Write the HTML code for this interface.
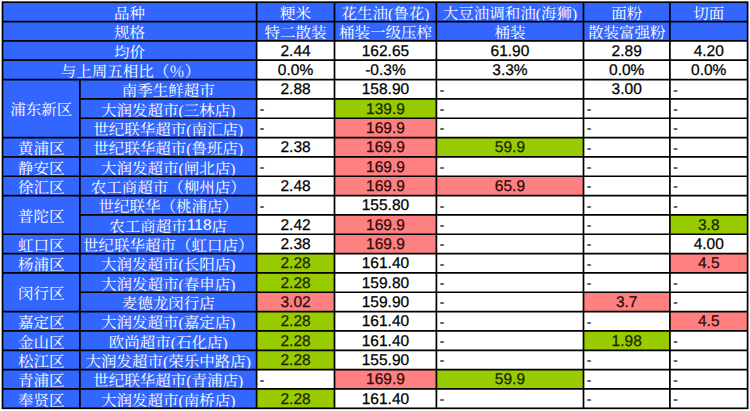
<!DOCTYPE html>
<html><head><meta charset="utf-8"><style>
html,body{margin:0;padding:0;background:#fff;}
body{width:750px;height:411px;position:relative;overflow:hidden;text-rendering:geometricPrecision;}
.c{position:absolute;display:flex;align-items:center;justify-content:center;white-space:nowrap;box-sizing:border-box;}
.h{padding-top:2px;color:#fff;font-family:"Liberation Serif","Noto Serif CJK SC",serif;font-size:15.5px;font-weight:400;}
.n{padding-top:2.2px;color:#000;-webkit-text-stroke:0.25px #000;font-family:"Liberation Sans",Arial,sans-serif;font-size:15.5px;}
.d{padding-top:1.6px;color:#000;font-family:"Liberation Sans",Arial,sans-serif;font-size:15px;justify-content:flex-start;padding-left:3px;}
svg{position:absolute;left:0;top:0;}
.ls{font-family:"Liberation Sans",sans-serif;}
</style></head><body>
<div class="c h" style="left:2.50px;top:2.20px;width:254.10px;height:19.34px;background:#3366FF">品种</div>
<div class="c h" style="left:256.60px;top:2.20px;width:77.90px;height:19.34px;background:#3366FF">粳米</div>
<div class="c h" style="left:334.50px;top:2.20px;width:101.90px;height:19.34px;background:#3366FF">花生油(鲁花)</div>
<div class="c h" style="left:436.40px;top:2.20px;width:147.10px;height:19.34px;background:#3366FF">大豆油调和油(海狮)</div>
<div class="c h" style="left:583.50px;top:2.20px;width:86.40px;height:19.34px;background:#3366FF">面粉</div>
<div class="c h" style="left:669.90px;top:2.20px;width:77.70px;height:19.34px;background:#3366FF">切面</div>
<div class="c h" style="left:2.50px;top:21.54px;width:254.10px;height:19.34px;background:#3366FF">规格</div>
<div class="c h" style="left:256.60px;top:21.54px;width:77.90px;height:19.34px;background:#3366FF">特二散装</div>
<div class="c h" style="left:334.50px;top:21.54px;width:101.90px;height:19.34px;background:#3366FF">桶装一级压榨</div>
<div class="c h" style="left:436.40px;top:21.54px;width:147.10px;height:19.34px;background:#3366FF">桶装</div>
<div class="c h" style="left:583.50px;top:21.54px;width:86.40px;height:19.34px;background:#3366FF">散装富强粉</div>
<div class="c h" style="left:669.90px;top:21.54px;width:77.70px;height:19.34px;background:#3366FF"></div>
<div class="c h" style="left:2.50px;top:40.88px;width:254.10px;height:19.34px;background:#3366FF">均价</div>
<div class="c n" style="left:256.60px;top:40.88px;width:77.90px;height:19.34px;background:#FFFFFF">2.44</div>
<div class="c n" style="left:334.50px;top:40.88px;width:101.90px;height:19.34px;background:#FFFFFF">162.65</div>
<div class="c n" style="left:436.40px;top:40.88px;width:147.10px;height:19.34px;background:#FFFFFF">61.90</div>
<div class="c n" style="left:583.50px;top:40.88px;width:86.40px;height:19.34px;background:#FFFFFF">2.89</div>
<div class="c n" style="left:669.90px;top:40.88px;width:77.70px;height:19.34px;background:#FFFFFF">4.20</div>
<div class="c h" style="left:2.50px;top:60.21px;width:254.10px;height:19.34px;background:#3366FF"><span style="position:relative;left:1px">与上周五相比（％）</span></div>
<div class="c n" style="left:256.60px;top:60.21px;width:77.90px;height:19.34px;background:#FFFFFF">0.0%</div>
<div class="c n" style="left:334.50px;top:60.21px;width:101.90px;height:19.34px;background:#FFFFFF">-0.3%</div>
<div class="c n" style="left:436.40px;top:60.21px;width:147.10px;height:19.34px;background:#FFFFFF">3.3%</div>
<div class="c n" style="left:583.50px;top:60.21px;width:86.40px;height:19.34px;background:#FFFFFF">0.0%</div>
<div class="c n" style="left:669.90px;top:60.21px;width:77.70px;height:19.34px;background:#FFFFFF">0.0%</div>
<div class="c h" style="left:2.50px;top:79.55px;width:77.40px;height:58.01px;background:#3366FF"><span style="position:relative;top:-1px">浦东新区</span></div>
<div class="c h" style="left:2.50px;top:137.57px;width:77.40px;height:19.34px;background:#3366FF">黄浦区</div>
<div class="c h" style="left:2.50px;top:156.90px;width:77.40px;height:19.34px;background:#3366FF">静安区</div>
<div class="c h" style="left:2.50px;top:176.24px;width:77.40px;height:19.34px;background:#3366FF">徐汇区</div>
<div class="c h" style="left:2.50px;top:195.58px;width:77.40px;height:38.68px;background:#3366FF">普陀区</div>
<div class="c h" style="left:2.50px;top:234.26px;width:77.40px;height:19.34px;background:#3366FF">虹口区</div>
<div class="c h" style="left:2.50px;top:253.59px;width:77.40px;height:19.34px;background:#3366FF">杨浦区</div>
<div class="c h" style="left:2.50px;top:272.93px;width:77.40px;height:38.68px;background:#3366FF">闵行区</div>
<div class="c h" style="left:2.50px;top:311.61px;width:77.40px;height:19.34px;background:#3366FF">嘉定区</div>
<div class="c h" style="left:2.50px;top:330.95px;width:77.40px;height:19.34px;background:#3366FF">金山区</div>
<div class="c h" style="left:2.50px;top:350.28px;width:77.40px;height:19.34px;background:#3366FF">松江区</div>
<div class="c h" style="left:2.50px;top:369.62px;width:77.40px;height:19.34px;background:#3366FF">青浦区</div>
<div class="c h" style="left:2.50px;top:388.96px;width:77.40px;height:19.34px;background:#3366FF">奉贤区</div>
<div class="c h" style="left:79.90px;top:79.55px;width:176.70px;height:19.34px;background:#3366FF">南季生鲜超市</div>
<div class="c n" style="left:256.60px;top:79.55px;width:77.90px;height:19.34px;background:#FFFFFF">2.88</div>
<div class="c n" style="left:334.50px;top:79.55px;width:101.90px;height:19.34px;background:#FFFFFF">158.90</div>
<div class="c d" style="left:436.40px;top:79.55px;width:147.10px;height:19.34px;background:#FFFFFF">-</div>
<div class="c n" style="left:583.50px;top:79.55px;width:86.40px;height:19.34px;background:#FFFFFF">3.00</div>
<div class="c d" style="left:669.90px;top:79.55px;width:77.70px;height:19.34px;background:#FFFFFF">-</div>
<div class="c h" style="left:79.90px;top:98.89px;width:176.70px;height:19.34px;background:#3366FF">大润发超市(三林店)</div>
<div class="c d" style="left:256.60px;top:98.89px;width:77.90px;height:19.34px;background:#FFFFFF">-</div>
<div class="c n" style="left:334.50px;top:98.89px;width:101.90px;height:19.34px;background:#99CC00;color:#1c2600;-webkit-text-stroke-color:#1c2600">139.9</div>
<div class="c d" style="left:436.40px;top:98.89px;width:147.10px;height:19.34px;background:#FFFFFF">-</div>
<div class="c d" style="left:583.50px;top:98.89px;width:86.40px;height:19.34px;background:#FFFFFF">-</div>
<div class="c d" style="left:669.90px;top:98.89px;width:77.70px;height:19.34px;background:#FFFFFF">-</div>
<div class="c h" style="left:79.90px;top:118.23px;width:176.70px;height:19.34px;background:#3366FF">世纪联华超市(南汇店)</div>
<div class="c d" style="left:256.60px;top:118.23px;width:77.90px;height:19.34px;background:#FFFFFF">-</div>
<div class="c n" style="left:334.50px;top:118.23px;width:101.90px;height:19.34px;background:#FF8080;color:#2e0a0a;-webkit-text-stroke-color:#2e0a0a">169.9</div>
<div class="c d" style="left:436.40px;top:118.23px;width:147.10px;height:19.34px;background:#FFFFFF">-</div>
<div class="c d" style="left:583.50px;top:118.23px;width:86.40px;height:19.34px;background:#FFFFFF">-</div>
<div class="c d" style="left:669.90px;top:118.23px;width:77.70px;height:19.34px;background:#FFFFFF">-</div>
<div class="c h" style="left:79.90px;top:137.57px;width:176.70px;height:19.34px;background:#3366FF">世纪联华超市(鲁班店)</div>
<div class="c n" style="left:256.60px;top:137.57px;width:77.90px;height:19.34px;background:#FFFFFF">2.38</div>
<div class="c n" style="left:334.50px;top:137.57px;width:101.90px;height:19.34px;background:#FF8080;color:#2e0a0a;-webkit-text-stroke-color:#2e0a0a">169.9</div>
<div class="c n" style="left:436.40px;top:137.57px;width:147.10px;height:19.34px;background:#99CC00;color:#1c2600;-webkit-text-stroke-color:#1c2600">59.9</div>
<div class="c d" style="left:583.50px;top:137.57px;width:86.40px;height:19.34px;background:#FFFFFF">-</div>
<div class="c d" style="left:669.90px;top:137.57px;width:77.70px;height:19.34px;background:#FFFFFF">-</div>
<div class="c h" style="left:79.90px;top:156.90px;width:176.70px;height:19.34px;background:#3366FF">大润发超市(闸北店)</div>
<div class="c d" style="left:256.60px;top:156.90px;width:77.90px;height:19.34px;background:#FFFFFF">-</div>
<div class="c n" style="left:334.50px;top:156.90px;width:101.90px;height:19.34px;background:#FF8080;color:#2e0a0a;-webkit-text-stroke-color:#2e0a0a">169.9</div>
<div class="c d" style="left:436.40px;top:156.90px;width:147.10px;height:19.34px;background:#FFFFFF">-</div>
<div class="c d" style="left:583.50px;top:156.90px;width:86.40px;height:19.34px;background:#FFFFFF">-</div>
<div class="c d" style="left:669.90px;top:156.90px;width:77.70px;height:19.34px;background:#FFFFFF">-</div>
<div class="c h" style="left:79.90px;top:176.24px;width:176.70px;height:19.34px;background:#3366FF">农工商超市（柳州店）</div>
<div class="c n" style="left:256.60px;top:176.24px;width:77.90px;height:19.34px;background:#FFFFFF">2.48</div>
<div class="c n" style="left:334.50px;top:176.24px;width:101.90px;height:19.34px;background:#FF8080;color:#2e0a0a;-webkit-text-stroke-color:#2e0a0a">169.9</div>
<div class="c n" style="left:436.40px;top:176.24px;width:147.10px;height:19.34px;background:#FF8080;color:#2e0a0a;-webkit-text-stroke-color:#2e0a0a">65.9</div>
<div class="c d" style="left:583.50px;top:176.24px;width:86.40px;height:19.34px;background:#FFFFFF">-</div>
<div class="c d" style="left:669.90px;top:176.24px;width:77.70px;height:19.34px;background:#FFFFFF">-</div>
<div class="c h" style="left:79.90px;top:195.58px;width:176.70px;height:19.34px;background:#3366FF">世纪联华（桃浦店）</div>
<div class="c d" style="left:256.60px;top:195.58px;width:77.90px;height:19.34px;background:#FFFFFF">-</div>
<div class="c n" style="left:334.50px;top:195.58px;width:101.90px;height:19.34px;background:#FFFFFF">155.80</div>
<div class="c d" style="left:436.40px;top:195.58px;width:147.10px;height:19.34px;background:#FFFFFF">-</div>
<div class="c d" style="left:583.50px;top:195.58px;width:86.40px;height:19.34px;background:#FFFFFF">-</div>
<div class="c d" style="left:669.90px;top:195.58px;width:77.70px;height:19.34px;background:#FFFFFF">-</div>
<div class="c h" style="left:79.90px;top:214.92px;width:176.70px;height:19.34px;background:#3366FF">农工商超市<span class="ls">118</span>店</div>
<div class="c n" style="left:256.60px;top:214.92px;width:77.90px;height:19.34px;background:#FFFFFF">2.42</div>
<div class="c n" style="left:334.50px;top:214.92px;width:101.90px;height:19.34px;background:#FF8080;color:#2e0a0a;-webkit-text-stroke-color:#2e0a0a">169.9</div>
<div class="c d" style="left:436.40px;top:214.92px;width:147.10px;height:19.34px;background:#FFFFFF">-</div>
<div class="c d" style="left:583.50px;top:214.92px;width:86.40px;height:19.34px;background:#FFFFFF">-</div>
<div class="c n" style="left:669.90px;top:214.92px;width:77.70px;height:19.34px;background:#99CC00;color:#1c2600;-webkit-text-stroke-color:#1c2600">3.8</div>
<div class="c h" style="left:79.90px;top:234.26px;width:176.70px;height:19.34px;background:#3366FF">世纪联华超市（虹口店）</div>
<div class="c n" style="left:256.60px;top:234.26px;width:77.90px;height:19.34px;background:#FFFFFF">2.38</div>
<div class="c n" style="left:334.50px;top:234.26px;width:101.90px;height:19.34px;background:#FF8080;color:#2e0a0a;-webkit-text-stroke-color:#2e0a0a">169.9</div>
<div class="c d" style="left:436.40px;top:234.26px;width:147.10px;height:19.34px;background:#FFFFFF">-</div>
<div class="c d" style="left:583.50px;top:234.26px;width:86.40px;height:19.34px;background:#FFFFFF">-</div>
<div class="c n" style="left:669.90px;top:234.26px;width:77.70px;height:19.34px;background:#FFFFFF">4.00</div>
<div class="c h" style="left:79.90px;top:253.59px;width:176.70px;height:19.34px;background:#3366FF">大润发超市(长阳店)</div>
<div class="c n" style="left:256.60px;top:253.59px;width:77.90px;height:19.34px;background:#99CC00;color:#1c2600;-webkit-text-stroke-color:#1c2600">2.28</div>
<div class="c n" style="left:334.50px;top:253.59px;width:101.90px;height:19.34px;background:#FFFFFF">161.40</div>
<div class="c d" style="left:436.40px;top:253.59px;width:147.10px;height:19.34px;background:#FFFFFF">-</div>
<div class="c d" style="left:583.50px;top:253.59px;width:86.40px;height:19.34px;background:#FFFFFF">-</div>
<div class="c n" style="left:669.90px;top:253.59px;width:77.70px;height:19.34px;background:#FF8080;color:#2e0a0a;-webkit-text-stroke-color:#2e0a0a">4.5</div>
<div class="c h" style="left:79.90px;top:272.93px;width:176.70px;height:19.34px;background:#3366FF">大润发超市(春申店)</div>
<div class="c n" style="left:256.60px;top:272.93px;width:77.90px;height:19.34px;background:#99CC00;color:#1c2600;-webkit-text-stroke-color:#1c2600">2.28</div>
<div class="c n" style="left:334.50px;top:272.93px;width:101.90px;height:19.34px;background:#FFFFFF">159.80</div>
<div class="c d" style="left:436.40px;top:272.93px;width:147.10px;height:19.34px;background:#FFFFFF">-</div>
<div class="c d" style="left:583.50px;top:272.93px;width:86.40px;height:19.34px;background:#FFFFFF">-</div>
<div class="c d" style="left:669.90px;top:272.93px;width:77.70px;height:19.34px;background:#FFFFFF">-</div>
<div class="c h" style="left:79.90px;top:292.27px;width:176.70px;height:19.34px;background:#3366FF">麦德龙闵行店</div>
<div class="c n" style="left:256.60px;top:292.27px;width:77.90px;height:19.34px;background:#FF8080;color:#2e0a0a;-webkit-text-stroke-color:#2e0a0a">3.02</div>
<div class="c n" style="left:334.50px;top:292.27px;width:101.90px;height:19.34px;background:#FFFFFF">159.90</div>
<div class="c d" style="left:436.40px;top:292.27px;width:147.10px;height:19.34px;background:#FFFFFF">-</div>
<div class="c n" style="left:583.50px;top:292.27px;width:86.40px;height:19.34px;background:#FF8080;color:#2e0a0a;-webkit-text-stroke-color:#2e0a0a">3.7</div>
<div class="c d" style="left:669.90px;top:292.27px;width:77.70px;height:19.34px;background:#FFFFFF">-</div>
<div class="c h" style="left:79.90px;top:311.61px;width:176.70px;height:19.34px;background:#3366FF">大润发超市(嘉定店)</div>
<div class="c n" style="left:256.60px;top:311.61px;width:77.90px;height:19.34px;background:#99CC00;color:#1c2600;-webkit-text-stroke-color:#1c2600">2.28</div>
<div class="c n" style="left:334.50px;top:311.61px;width:101.90px;height:19.34px;background:#FFFFFF">161.40</div>
<div class="c d" style="left:436.40px;top:311.61px;width:147.10px;height:19.34px;background:#FFFFFF">-</div>
<div class="c d" style="left:583.50px;top:311.61px;width:86.40px;height:19.34px;background:#FFFFFF">-</div>
<div class="c n" style="left:669.90px;top:311.61px;width:77.70px;height:19.34px;background:#FF8080;color:#2e0a0a;-webkit-text-stroke-color:#2e0a0a">4.5</div>
<div class="c h" style="left:79.90px;top:330.95px;width:176.70px;height:19.34px;background:#3366FF">欧尚超市(石化店)</div>
<div class="c n" style="left:256.60px;top:330.95px;width:77.90px;height:19.34px;background:#99CC00;color:#1c2600;-webkit-text-stroke-color:#1c2600">2.28</div>
<div class="c n" style="left:334.50px;top:330.95px;width:101.90px;height:19.34px;background:#FFFFFF">161.40</div>
<div class="c d" style="left:436.40px;top:330.95px;width:147.10px;height:19.34px;background:#FFFFFF">-</div>
<div class="c n" style="left:583.50px;top:330.95px;width:86.40px;height:19.34px;background:#99CC00;color:#1c2600;-webkit-text-stroke-color:#1c2600">1.98</div>
<div class="c d" style="left:669.90px;top:330.95px;width:77.70px;height:19.34px;background:#FFFFFF">-</div>
<div class="c h" style="left:79.90px;top:350.28px;width:176.70px;height:19.34px;background:#3366FF">大润发超市(荣乐中路店)</div>
<div class="c n" style="left:256.60px;top:350.28px;width:77.90px;height:19.34px;background:#99CC00;color:#1c2600;-webkit-text-stroke-color:#1c2600">2.28</div>
<div class="c n" style="left:334.50px;top:350.28px;width:101.90px;height:19.34px;background:#FFFFFF">155.90</div>
<div class="c d" style="left:436.40px;top:350.28px;width:147.10px;height:19.34px;background:#FFFFFF">-</div>
<div class="c d" style="left:583.50px;top:350.28px;width:86.40px;height:19.34px;background:#FFFFFF">-</div>
<div class="c d" style="left:669.90px;top:350.28px;width:77.70px;height:19.34px;background:#FFFFFF">-</div>
<div class="c h" style="left:79.90px;top:369.62px;width:176.70px;height:19.34px;background:#3366FF">世纪联华超市(青浦店)</div>
<div class="c d" style="left:256.60px;top:369.62px;width:77.90px;height:19.34px;background:#FFFFFF">-</div>
<div class="c n" style="left:334.50px;top:369.62px;width:101.90px;height:19.34px;background:#FF8080;color:#2e0a0a;-webkit-text-stroke-color:#2e0a0a">169.9</div>
<div class="c n" style="left:436.40px;top:369.62px;width:147.10px;height:19.34px;background:#99CC00;color:#1c2600;-webkit-text-stroke-color:#1c2600">59.9</div>
<div class="c d" style="left:583.50px;top:369.62px;width:86.40px;height:19.34px;background:#FFFFFF">-</div>
<div class="c d" style="left:669.90px;top:369.62px;width:77.70px;height:19.34px;background:#FFFFFF">-</div>
<div class="c h" style="left:79.90px;top:388.96px;width:176.70px;height:19.34px;background:#3366FF">大润发超市(南桥店)</div>
<div class="c n" style="left:256.60px;top:388.96px;width:77.90px;height:19.34px;background:#99CC00;color:#1c2600;-webkit-text-stroke-color:#1c2600">2.28</div>
<div class="c n" style="left:334.50px;top:388.96px;width:101.90px;height:19.34px;background:#FFFFFF">161.40</div>
<div class="c d" style="left:436.40px;top:388.96px;width:147.10px;height:19.34px;background:#FFFFFF">-</div>
<div class="c d" style="left:583.50px;top:388.96px;width:86.40px;height:19.34px;background:#FFFFFF">-</div>
<div class="c d" style="left:669.90px;top:388.96px;width:77.70px;height:19.34px;background:#FFFFFF">-</div>
<svg width="750" height="411" viewBox="0 0 750 411"><rect x="2.5" y="2.20" width="745.10" height="406.10" fill="none" stroke="#000" stroke-width="1.7"/><line x1="2.5" x2="747.6" y1="21.54" y2="21.54" stroke="#000" stroke-width="1.7"/><line x1="2.5" x2="747.6" y1="40.88" y2="40.88" stroke="#000" stroke-width="1.7"/><line x1="2.5" x2="747.6" y1="60.21" y2="60.21" stroke="#000" stroke-width="1.7"/><line x1="2.5" x2="747.6" y1="79.55" y2="79.55" stroke="#000" stroke-width="1.7"/><line x1="79.9" x2="747.6" y1="98.89" y2="98.89" stroke="#000" stroke-width="1.7"/><line x1="79.9" x2="747.6" y1="118.23" y2="118.23" stroke="#000" stroke-width="1.7"/><line x1="2.5" x2="747.6" y1="137.57" y2="137.57" stroke="#000" stroke-width="1.7"/><line x1="2.5" x2="747.6" y1="156.90" y2="156.90" stroke="#000" stroke-width="1.7"/><line x1="2.5" x2="747.6" y1="176.24" y2="176.24" stroke="#000" stroke-width="1.7"/><line x1="2.5" x2="747.6" y1="195.58" y2="195.58" stroke="#000" stroke-width="1.7"/><line x1="79.9" x2="747.6" y1="214.92" y2="214.92" stroke="#000" stroke-width="1.7"/><line x1="2.5" x2="747.6" y1="234.26" y2="234.26" stroke="#000" stroke-width="1.7"/><line x1="2.5" x2="747.6" y1="253.59" y2="253.59" stroke="#000" stroke-width="1.7"/><line x1="2.5" x2="747.6" y1="272.93" y2="272.93" stroke="#000" stroke-width="1.7"/><line x1="79.9" x2="747.6" y1="292.27" y2="292.27" stroke="#000" stroke-width="1.7"/><line x1="2.5" x2="747.6" y1="311.61" y2="311.61" stroke="#000" stroke-width="1.7"/><line x1="2.5" x2="747.6" y1="330.95" y2="330.95" stroke="#000" stroke-width="1.7"/><line x1="2.5" x2="747.6" y1="350.28" y2="350.28" stroke="#000" stroke-width="1.7"/><line x1="2.5" x2="747.6" y1="369.62" y2="369.62" stroke="#000" stroke-width="1.7"/><line x1="2.5" x2="747.6" y1="388.96" y2="388.96" stroke="#000" stroke-width="1.7"/><line x1="79.9" x2="79.9" y1="79.55" y2="408.30" stroke="#000" stroke-width="1.7"/><line x1="256.6" x2="256.6" y1="2.20" y2="408.30" stroke="#000" stroke-width="1.7"/><line x1="334.5" x2="334.5" y1="2.20" y2="408.30" stroke="#000" stroke-width="1.7"/><line x1="436.4" x2="436.4" y1="2.20" y2="408.30" stroke="#000" stroke-width="1.7"/><line x1="583.5" x2="583.5" y1="2.20" y2="408.30" stroke="#000" stroke-width="1.7"/><line x1="669.9" x2="669.9" y1="2.20" y2="408.30" stroke="#000" stroke-width="1.7"/></svg>
</body></html>
